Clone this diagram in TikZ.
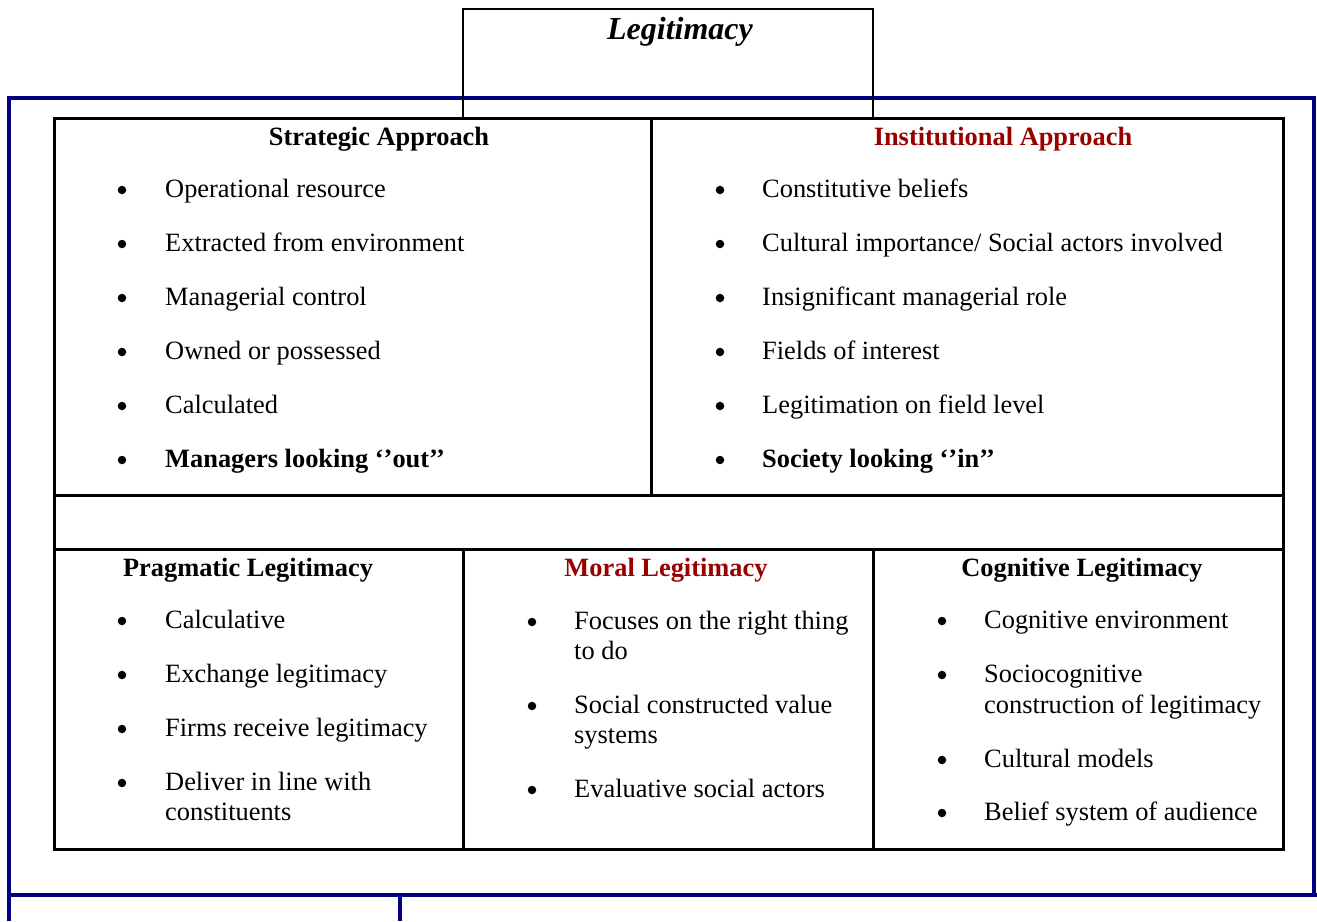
\documentclass[tikz,border=0pt]{standalone}
\usepackage{fontspec}
\setmainfont{Liberation Serif}
\usetikzlibrary{positioning}
\definecolor{framenavy}{HTML}{000080}
\definecolor{headred}{HTML}{990000}
\newcommand{\bodyfont}{\fontsize{26.4}{30}\selectfont}
\newcommand{\titlefont}{\fontsize{32}{36}\selectfont\bfseries\itshape}

\begin{document}
\begin{tikzpicture}
  [
  x=1pt, y=-1pt,
  navyline/.style={line width=3.5pt, draw=framenavy},
  boxline/.style={line width=3pt, draw=black},
  thinline/.style={line width=2pt, draw=black},
  head/.style={anchor=base, inner sep=0pt, font=\bodyfont\bfseries},
  lbl/.style={anchor=base west, inner sep=0pt, font=\bodyfont},
  dot/.style={circle, fill=black, inner sep=0pt, minimum size=8.5pt},
  ]
  \useasboundingbox (0,0) rectangle (1317,921);

  % outer frame
  \draw[navyline] (9,921) -- (9,98) -- (1314,98) -- (1314,895);
  \draw[navyline] (9,895) -- (1317,895);
  \draw[navyline] (400,895) -- (400,921);

  % title box
  \draw[thinline] (463,118) -- (463,9) -- (873,9) -- (873,118);
  \node[anchor=base, inner sep=0pt, font=\titlefont] (title) at (680,39) {Legitimacy};

  % table
  \draw[boxline] (54,118) rectangle (1283,849);
  \draw[boxline] (54,495) -- (1283,495);
  \draw[boxline] (54,549) -- (1283,549);
  \draw[boxline] (651,118) -- (651,495);
  \draw[boxline] (463,549) -- (463,849);
  \draw[boxline] (873,549) -- (873,849);

  \node[head] (strat) at (379,145) {Strategic Approach};
  \node[head, text=headred] (inst) at (1003,145) {Institutional Approach};

  \foreach \t [count=\i] in {Operational resource, Extracted from environment,
      Managerial control, Owned or possessed, Calculated,
      {\textbf{Managers looking ‘’out’’}}} {
    \node[dot] (sb\i) at (122,136+54*\i) {};
    \node[lbl] (st\i) at (165,143+54*\i) {\t};
  }

  \foreach \t [count=\i] in {Constitutive beliefs,
      Cultural importance/ Social actors involved,
      Insignificant managerial role, Fields of interest,
      Legitimation on field level,
      {\textbf{Society looking ‘’in’’}}} {
    \node[dot] (ib\i) at (720,136+54*\i) {};
    \node[lbl] (it\i) at (762,143+54*\i) {\t};
  }

  \node[head] (prag) at (248,576) {Pragmatic Legitimacy};
  \node[head, text=headred] (moral) at (666,576) {Moral Legitimacy};
  \node[head] (cogn) at (1082,576) {Cognitive Legitimacy};

  \foreach \y [count=\i] in {628,682,736,790}
    \node[dot] (pb\i) at (122,\y-7) {};
  \foreach \y/\t [count=\i] in {628/Calculative, 682/Exchange legitimacy,
      736/Firms receive legitimacy, 790/Deliver in line with,
      820/constituents}
    \node[lbl] (pt\i) at (165,\y) {\t};

  \foreach \y [count=\i] in {629,713,797}
    \node[dot] (mb\i) at (532,\y-7) {};
  \foreach \y/\t [count=\i] in {629/Focuses on the right thing, 659/to do,
      713/Social constructed value, 743/systems,
      797/Evaluative social actors}
    \node[lbl] (mt\i) at (574,\y) {\t};

  \foreach \y [count=\i] in {628,682,767,820}
    \node[dot] (cb\i) at (942,\y-7) {};
  \foreach \y/\t [count=\i] in {628/Cognitive environment, 682/Sociocognitive,
      713/construction of legitimacy, 767/Cultural models,
      820/Belief system of audience}
    \node[lbl] (ct\i) at (984,\y) {\t};
\end{tikzpicture}
\end{document}
